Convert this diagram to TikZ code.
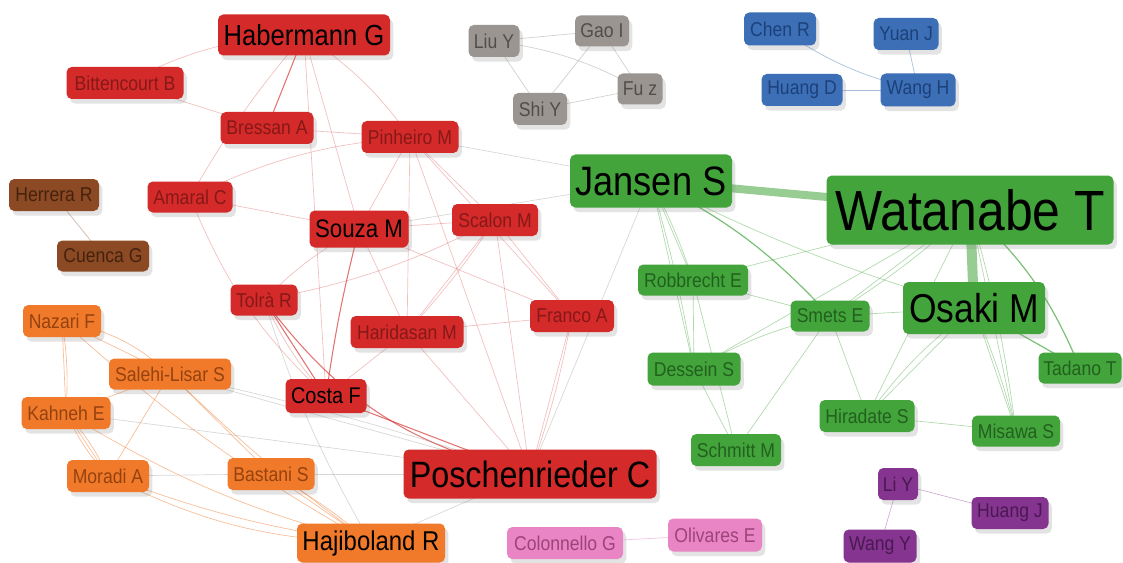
\documentclass[tikz,border=0pt]{standalone}
\usepackage{fontspec}
\setmainfont[FakeStretch=0.88]{Liberation Sans}
\usetikzlibrary{shadows,backgrounds}
\definecolor{cR}{HTML}{D42A2A}\definecolor{cRt}{HTML}{861818}
\definecolor{cG}{HTML}{43A43C}\definecolor{cGt}{HTML}{22601D}
\definecolor{cO}{HTML}{F07A2A}\definecolor{cOt}{HTML}{944210}
\definecolor{cY}{HTML}{9A9590}\definecolor{cYt}{HTML}{514D48}
\definecolor{cB}{HTML}{3D6FB6}\definecolor{cBt}{HTML}{1C417A}
\definecolor{cN}{HTML}{8B4A24}\definecolor{cNt}{HTML}{45220E}
\definecolor{cP}{HTML}{85358F}\definecolor{cPt}{HTML}{4A1852}
\definecolor{cK}{HTML}{E985C4}\definecolor{cKt}{HTML}{9C4479}
\tikzset{
  box/.style={rounded corners=4pt, inner sep=0pt,
    drop shadow={shadow xshift=2.5pt, shadow yshift=-3.5pt, opacity=0.22}},
  sz/.style 2 args={minimum width={#1*0.75pt}, minimum height={#2*0.75pt}},
  fsz/.style={font=\fontsize{#1}{#1}\selectfont},
  rn/.style={box, fill=cR, text=cRt, fsz=15pt},
  rb/.style={box, fill=cR, text=black},
  gn/.style={box, fill=cG, text=cGt, fsz=15pt},
  gb/.style={box, fill=cG, text=black},
  on/.style={box, fill=cO, text=cOt, fsz=15pt},
  ob/.style={box, fill=cO, text=black},
  yn/.style={box, fill=cY, text=cYt, fsz=15pt},
  bn/.style={box, fill=cB, text=cBt, fsz=15pt},
  nn/.style={box, fill=cN, text=cNt, fsz=15pt},
  pn/.style={box, fill=cP, text=cPt, fsz=15pt},
  kn/.style={box, fill=cK, text=cKt, fsz=15pt},
  er/.style={draw=cR, opacity=0.3, line width=0.5pt},
  erd/.style={draw=cR, opacity=0.65, line width=0.8pt},
  eg/.style={draw=cG, opacity=0.42, line width=0.5pt},
  egd/.style={draw=cG, opacity=0.7, line width=0.9pt},
  eo/.style={draw=cO, opacity=0.5, line width=0.5pt},
  ex/.style={draw=black!45, opacity=0.35, line width=0.5pt},
  ey/.style={draw=cY, opacity=0.45, line width=0.5pt},
  eb/.style={draw=cB, opacity=0.45, line width=0.5pt},
}
\begin{document}
\begin{tikzpicture}[x=0.75pt,y=-0.75pt]
\useasboundingbox (0,0) rectangle (1123,563);
% red cluster
\node[rb, sz={172}{41}, fsz=21.8pt] (hab) at (304,35) {Habermann G};
\node[rn, sz={117}{32}] (bit) at (125,83) {Bittencourt B};
\node[rn, sz={93}{32}] (bre) at (267,128) {Bressan A};
\node[rn, sz={97}{32}] (pin) at (410,137) {Pinheiro M};
\node[rn, sz={85}{31}] (ama) at (190,197) {Amaral C};
\node[rb, sz={99}{37}, fsz=19pt] (sou) at (359,229) {Souza M};
\node[rn, sz={86}{32}] (sca) at (495,220) {Scalon M};
\node[rn, sz={67}{31}] (tol) at (264,300) {Tolrà R};
\node[rn, sz={113}{32}] (har) at (407,332) {Haridasan M};
\node[rn, sz={84}{32}] (fra) at (572,316) {Franco A};
\node[rb, sz={81}{34}, fsz=17pt] (cos) at (326,396) {Costa F};
\node[rb, sz={253}{49}, fsz=27.5pt] (pos) at (530,474) {Poschenrieder C};
% brown
\node[nn, sz={90}{32}] (her) at (54,195) {Herrera R};
\node[nn, sz={92}{31}] (cue) at (103,256) {Cuenca G};
% orange
\node[on, sz={78}{32}] (naz) at (62,321) {Nazari F};
\node[on, sz={122}{31}] (sal) at (170,374) {Salehi-Lisar S};
\node[on, sz={89}{32}] (kah) at (66,413) {Kahneh E};
\node[on, sz={82}{32}] (mor) at (108,476) {Moradi A};
\node[on, sz={87}{32}] (bas) at (271,474) {Bastani S};
\node[ob, sz={148}{39}, fsz=20.4pt] (haj) at (371,543) {Hajiboland R};
% gray
\node[yn, sz={51}{32}] (liu) at (494,41) {Liu Y};
\node[yn, sz={54}{31}] (gao) at (602,31) {Gao I};
\node[yn, sz={45}{31}] (fu) at (640,89) {Fu z};
\node[yn, sz={54}{32}] (shi) at (540,109) {Shi Y};
% blue
\node[bn, sz={72}{33}] (chen) at (780,29) {Chen R};
\node[bn, sz={65}{32}] (yuan) at (906,34) {Yuan J};
\node[bn, sz={81}{32}] (hud) at (802,90) {Huang D};
\node[bn, sz={75}{33}] (wah) at (918,90) {Wang H};
% green
\node[gb, sz={162}{53}, fsz=30.8pt] (jan) at (651,181) {Jansen S};
\node[gb, sz={287}{69}, fsz=42.5pt] (wat) at (970,210) {Watanabe T};
\node[gb, sz={142}{52}, fsz=30.2pt] (osa) at (974,308) {Osaki M};
\node[gn, sz={110}{31}] (rob) at (693,280) {Robbrecht E};
\node[gn, sz={79}{31}] (sme) at (830,316) {Smets E};
\node[gn, sz={93}{33}] (des) at (694,369) {Dessein S};
\node[gn, sz={83}{31}] (tad) at (1080,368) {Tadano T};
\node[gn, sz={95}{32}] (hir) at (867,416) {Hiradate S};
\node[gn, sz={88}{31}] (mis) at (1016,431) {Misawa S};
\node[gn, sz={90}{32}] (sch) at (736,450) {Schmitt M};
% purple
\node[pn, sz={40}{32}] (liy) at (898,484) {Li Y};
\node[pn, sz={77}{32}] (huj) at (1010,513) {Huang J};
\node[pn, sz={73}{33}] (way) at (880,546) {Wang Y};
% pink
\node[kn, sz={116}{32}] (col) at (565,543) {Colonnello G};
\node[kn, sz={94}{33}] (oli) at (715,535) {Olivares E};

\begin{scope}[on background layer]
\fill[white] (0,0) rectangle (1123,563);
% red edges
\draw[er] (hab.center) to[bend right=12] (bit.center);
\draw[er] (bit.center) -- (bre.center);
\draw[erd] (hab.center) -- (bre.center);
\draw[er] (hab.center) to[bend right=5] (ama.center);
\draw[er] (hab.center) -- (sou.center);
\draw[er] (hab.center) -- (cos.center);
\draw[er] (hab.center) to[bend left=10] (pin.center);
\draw[er] (bre.center) -- (pin.center);
\draw[er] (ama.center) to[bend left=10] (pin.center);
\draw[er] (ama.center) -- (sou.center);
\draw[er] (ama.center) to[bend right=12] (cos.center);
\draw[er] (pin.center) -- (sou.center);
\draw[er] (pin.center) -- (har.center);
\draw[er] (pin.center) -- (pos.center);
\draw[er] (pin.center) -- (fra.center);
\draw[er] (pin.center) -- (sca.center);
\draw[er] (sou.center) -- (sca.center);
\draw[er] (sou.center) -- (fra.center);
\draw[er] (sou.center) to[bend right=8] (tol.center);
\draw[er] (sou.center) -- (har.center);
\draw[erd] (sou.center) to[bend right=3] (cos.center);
\draw[er] (sca.center) to[bend left=8] (tol.center);
\draw[er] (sca.center) -- (har.center);
\draw[er] (sca.center) to[bend left=4] (har.center);
\draw[er] (sca.center) -- (fra.center);
\draw[er] (sca.center) -- (pos.center);
\draw[erd] (tol.center) -- (cos.center);
\draw[er] (tol.center) to[bend right=8] (cos.center);
\draw[erd] (tol.center) to[bend right=20] (pos.center);
\draw[er] (har.center) -- (cos.center);
\draw[er] (har.center) -- (fra.center);
\draw[er] (har.center) -- (pos.center);
\draw[erd] (cos.center) -- (pos.center);
\draw[er] (fra.center) -- (pos.center);
\draw[er] (fra.center) to[bend left=4] (pos.center);
% cross edges
\draw[ex] (pin.center) -- (jan.center);
\draw[ex] (sou.center) -- (jan.center);
\draw[ex] (jan.center) -- (pos.center);
\draw[ex] (tol.center) to[bend right=6] (haj.center);
\draw[ex] (pos.center) -- (haj.center);
\draw[ex] (pos.center) -- (sal.center);
\draw[ex] (pos.center) to[bend right=3] (sal.center);
\draw[ex] (pos.center) -- (kah.center);
\draw[ex] (pos.center) -- (bas.center);
\draw[ex] (mor.center) -- (bas.center);
% orange edges
\draw[eo] (naz.center) -- (sal.center);
\draw[eo] (naz.center) to[bend left=15] (sal.center);
\draw[eo] (naz.center) -- (kah.center);
\draw[eo] (naz.center) to[bend left=6] (kah.center);
\draw[eo] (naz.center) to[bend right=6] (haj.center);
\draw[eo] (sal.center) -- (kah.center);
\draw[eo] (sal.center) -- (mor.center);
\draw[eo] (sal.center) -- (bas.center);
\draw[eo] (sal.center) to[bend right=4] (haj.center);
\draw[eo] (kah.center) -- (mor.center);
\draw[eo] (kah.center) to[bend left=8] (mor.center);
\draw[eo] (kah.center) to[bend right=8] (mor.center);
\draw[eo] (kah.center) to[bend right=8] (haj.center);
\draw[eo] (mor.center) to[bend right=6] (haj.center);
\draw[eo] (mor.center) to[bend right=12] (haj.center);
\draw[eo] (bas.center) -- (haj.center);
\draw[eo] (bas.center) to[bend left=6] (haj.center);
% gray cluster
\draw[ey] (liu.center) -- (gao.center);
\draw[ey] (liu.center) to[bend left=10] (fu.center);
\draw[ey] (liu.center) -- (shi.center);
\draw[ey] (gao.center) -- (shi.center);
\draw[ey] (gao.center) -- (fu.center);
\draw[ey] (shi.center) -- (fu.center);
% blue cluster
\draw[eb] (chen.center) to[bend right=10] (wah.center);
\draw[eb] (hud.center) -- (wah.center);
\draw[eb] (yuan.center) -- (wah.center);
% small clusters
\draw[draw=cN, opacity=0.4, line width=0.5pt] (her.center) -- (cue.center);
\draw[draw=cP, opacity=0.4, line width=0.5pt] (liy.center) -- (huj.center);
\draw[draw=cP, opacity=0.4, line width=0.5pt] (liy.center) -- (way.center);
\draw[draw=cK, opacity=0.5, line width=0.5pt] (col.center) -- (oli.center);
% green edges
\draw[draw=cG, opacity=0.55, line width=6pt] (jan.center) -- (wat.center);
\draw[draw=cG, opacity=0.55, line width=7.5pt] (wat.center) -- (osa.center);
\draw[eg] (jan.center) -- (rob.center);
\draw[eg] (jan.center) to[bend left=4] (rob.center);
\draw[eg] (jan.center) -- (des.center);
\draw[eg] (jan.center) to[bend left=3] (des.center);
\draw[egd] (jan.center) to[bend left=10] (sme.center);
\draw[eg] (jan.center) to[bend right=5] (osa.center);
\draw[eg] (wat.center) -- (rob.center);
\draw[eg] (wat.center) -- (des.center);
\draw[eg] (wat.center) -- (sme.center);
\draw[eg] (wat.center) to[bend left=5] (sme.center);
\draw[eg] (wat.center) -- (hir.center);
\draw[eg] (wat.center) -- (mis.center);
\draw[eg] (wat.center) to[bend left=4] (mis.center);
\draw[egd] (wat.center) to[bend left=12] (tad.center);
\draw[eg] (rob.center) -- (sme.center);
\draw[eg] (rob.center) -- (des.center);
\draw[eg] (rob.center) -- (sch.center);
\draw[eg] (des.center) -- (sch.center);
\draw[eg] (des.center) to[bend left=8] (sme.center);
\draw[eg] (sme.center) -- (sch.center);
\draw[eg] (sme.center) -- (hir.center);
\draw[eg] (sme.center) -- (osa.center);
\draw[eg] (osa.center) -- (hir.center);
\draw[eg] (osa.center) to[bend right=8] (hir.center);
\draw[eg] (osa.center) -- (mis.center);
\draw[eg] (osa.center) to[bend left=4] (mis.center);
\draw[egd] (osa.center) -- (tad.center);
\draw[eg] (hir.center) -- (mis.center);
\end{scope}
\end{tikzpicture}
\end{document}
